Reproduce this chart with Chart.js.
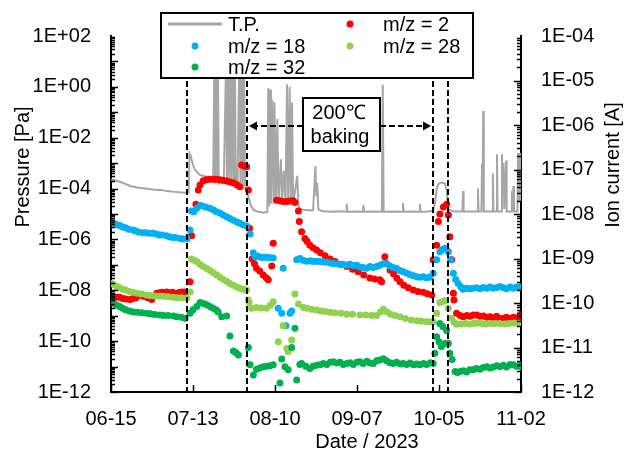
<!DOCTYPE html>
<html><head><meta charset="utf-8">
<script src="https://cdn.jsdelivr.net/npm/chart.js@4/dist/chart.umd.min.js"></script>
<style>html,body{margin:0;padding:0;background:#fff}#wrap{width:626px;height:451px}</style>
</head><body><div id="wrap"><canvas id="c" width="626" height="451"></canvas></div>
<script>
// ---- Data (x = days since 2023-06-15, y = log10 of value) ----
const xTickDays   = [0, 28, 56, 84, 112, 140];
const xTickLabels = ['06-15', '07-13', '08-10', '09-07', '10-05', '11-02'];
const leftTickExp   = [2, 0, -2, -4, -6, -8, -10, -12];
const leftTickLabels  = ['1E+02', '1E+00', '1E-02', '1E-04', '1E-06', '1E-08', '1E-10', '1E-12'];
const rightTickExp  = [-4, -5, -6, -7, -8, -9, -10, -11, -12];
const rightTickLabels = ['1E-04', '1E-05', '1E-06', '1E-07', '1E-08', '1E-09', '1E-10', '1E-11', '1E-12'];
const markerDays = [26.1, 46.5, 109.9, 115.1];   // vertical dashed lines (baking period edges)

// Total pressure [Pa], [day, log10(P)]
const tpPoints = [[0,-3.64],[1.5,-3.68],[3,-3.73],[5,-3.82],[6.5,-3.90],[9,-3.96],[11,-3.99],[13,-4.02],[15.6,-4.06],[17,-4.05],[19,-4.10],[22,-4.13],[25.3,-4.16],[26.5,-4.16],
[26.8,-2.61],[27.2,-2.70],[27.6,-2.90],[28.1,-3.10],[28.7,-3.27],[30.4,-3.47],[32.7,-3.53],[34.9,-3.60],
[35.3,1],[35.6,-3.8],[35.9,1],[36.2,-3.7],[36.5,1],[36.8,-3.8],[37.5,-3.75],[38.5,-3.78],
[39.3,1],[39.6,-3.8],[40.0,1],[40.4,-3.8],[40.8,1],[41.2,-3.85],[41.6,1],[42.0,-3.85],[42.3,1],[42.6,-3.85],[43.2,-3.9],
[43.8,1],[44.2,-3.9],[44.6,1],[45.0,-3.9],[45.4,1],[45.8,-3.95],[46.2,-4.06],[46.9,-4.30],[47.5,-4.58],[48.6,-4.84],[50,-4.90],[52,-4.95],[53.4,-4.92],
[53.7,-0.05],[54.0,-4.7],[54.3,-0.1],[54.6,-4.6],[55.0,-0.5],[55.5,-4.6],[55.8,-0.6],[56.3,-4.55],[56.8,-1.26],[57.2,-4.55],[58.0,-2.85],[58.4,-4.55],[59.0,-3.3],[59.6,-4.55],
[60.1,0.1],[60.5,-4.55],[61.0,0.0],[61.4,-4.6],[61.8,-0.62],[62.2,-4.6],[63.6,-3.5],[64.0,-4.7],[65,-4.82],[67,-4.85],[69,-4.85],
[69.8,-3.11],[70.1,-4.3],[70.4,-3.78],[70.8,-4.82],[72,-4.88],[75,-4.91],[78,-4.89],[80.3,-4.91],[80.5,-4.60],[80.7,-4.91],[83,-4.90],[86,-4.91],[86.2,-4.65],[86.4,-4.91],[89,-4.90],
[92.5,-4.91],[92.8,0.08],[93.1,-4.91],[96,-4.90],[99.5,-4.91],[99.7,-4.57],[99.9,-4.91],[102,-4.90],[105.3,-4.91],[105.5,-4.6],[105.7,-4.91],[108,-4.90],[110,-4.88],
[110.6,-4.6],[111.2,-4.03],[111.8,-3.82],[112.5,-3.77],[113.3,-3.77],[114.0,-3.80],[114.6,-4.05],[115.2,-4.82],[117,-4.90],[120.0,-4.90],[120.2,-4.10],[120.4,-4.90],
[123,-4.90],[125.1,-4.90],[125.3,-4.0],[125.5,-4.90],[126.5,-4.90],[126.7,-3.0],[126.9,-4.5],[127.1,-0.95],[127.3,-4.90],[130.2,-4.90],[130.4,-3.4],[130.6,-4.90],
[131.6,-4.90],[131.8,-2.65],[132.0,-4.90],[133.3,-4.90],[133.5,-2.65],[133.8,-4.3],[134.0,-3.0],[134.3,-4.8],[134.9,-2.9],[135.1,-4.90],[136.7,-4.90],[136.9,-4.1],
[137.2,-4.8],[137.4,-3.9],[137.6,-4.90],[138.8,-4.90],[139.0,-2.6],[139.3,-4.5],[139.6,-3.0],[139.8,-4.5],[140.0,-2.6]];

// Ion currents [A], [day, log10(I)]
const mz2Points = [[0.2,-9.84],[1,-9.86],[2,-9.87],[3,-9.87],[4,-9.90],[5,-9.91],[6.5,-9.92],[7.5,-9.90],[8.5,-9.88],[9.9,-9.82],[11,-9.85],[12.5,-9.88],[13.9,-9.92],[15.6,-9.78],
[16.5,-9.77],[17.5,-9.76],[19,-9.75],[20,-9.77],[21,-9.76],[22.4,-9.78],[23.5,-9.76],[24.3,-9.75],[25.3,-9.75],[27,-9.52],[27.5,-8.49],[29,-7.78],[29.8,-7.46],[30.4,-7.35],
[31.5,-7.25],[32.5,-7.23],[33.7,-7.22],[34.9,-7.22],[36,-7.22],[37.2,-7.23],[38.3,-7.24],[39.5,-7.26],[40.6,-7.28],[41.8,-7.30],[43,-7.34],[44,-7.39],[44.6,-6.90],[45.5,-6.92],
[46.3,-6.94],[46.9,-7.46],[47.3,-8.32],[48.2,-9.01],[49,-9.12],[49.7,-9.22],[50.8,-9.28],[52,-9.37],[53,-9.43],[53.7,-9.48],[54.9,-9.17],[55.4,-8.66],[56.6,-7.69],[57.7,-7.70],
[58.8,-7.72],[60,-7.72],[61.1,-7.71],[62.2,-7.70],[62.8,-7.74],[64,-7.93],[64.3,-8.17],[65.1,-8.40],[66.2,-8.55],[67,-8.62],[67.9,-8.70],[69,-8.76],[70.2,-8.81],[71.5,-8.87],
[73.1,-8.94],[74.8,-9.01],[76.5,-9.07],[78.5,-9.13],[80.5,-9.18],[82.5,-9.24],[84.4,-9.30],[86.3,-9.37],[88.4,-9.44],[90,-9.46],[91.8,-9.48],[92.4,-9.52],[93.5,-8.96],[93.8,-9.11],
[95.3,-9.26],[96.5,-9.35],[97.6,-9.44],[98.7,-9.52],[100,-9.60],[101.5,-9.66],[103.2,-9.71],[104.8,-9.74],[106.6,-9.76],[108,-9.79],[109.5,-9.82],[110,-9.03],[111.2,-8.70],
[111.8,-8.17],[112.3,-8.00],[113.5,-7.84],[114.6,-7.78],[115.2,-8.02],[115.7,-8.51],[116.3,-9.03],[116.9,-9.78],[117.1,-9.93],[118,-10.23],[119.2,-10.28],[120.3,-10.31],
[121.5,-10.28],[122.6,-10.30],[123.7,-10.27],[124.9,-10.27],[126,-10.30],[127.2,-10.29],[128.3,-10.32],[129.4,-10.31],[130.6,-10.33],[131.7,-10.30],[132.8,-10.35],[133.9,-10.34],
[135,-10.32],[136.2,-10.35],[137.4,-10.32],[138.5,-10.34],[139.6,-10.30],[140,-10.25]];

const mz18Points = [[0.2,-8.19],[1,-8.21],[2,-8.24],[3,-8.26],[4,-8.29],[5,-8.31],[6,-8.34],[7.6,-8.36],[8.5,-8.38],[9.5,-8.41],[11,-8.42],[12,-8.42],[13,-8.43],[14.4,-8.43],
[15.5,-8.45],[16.5,-8.47],[17.5,-8.47],[19,-8.49],[20,-8.51],[21,-8.53],[22,-8.53],[23.6,-8.55],[24.5,-8.56],[26,-8.55],[27,-8.36],[27.5,-7.93],[28.3,-7.95],[29.3,-7.87],
[30.4,-7.81],[31.3,-7.82],[32.4,-7.85],[33.8,-7.87],[35,-7.91],[36,-7.95],[37.2,-7.98],[38.3,-8.02],[39.5,-8.06],[40.6,-8.10],[41.8,-8.14],[43,-8.18],[44,-8.21],[45,-8.24],
[46.3,-8.27],[47.5,-8.45],[48.6,-8.87],[49.2,-8.96],[50.2,-8.95],[51,-8.97],[52,-8.97],[53,-8.98],[54,-8.98],[55.4,-8.99],[57.1,-10.12],[58.3,-10.23],[58.8,-9.22],[59.7,-10.51],
[61.1,-10.23],[61.7,-10.18],[63.4,-9.03],[64.5,-9.00],[65.5,-9.04],[66.8,-9.06],[68,-9.05],[69,-9.07],[70.2,-9.06],[71.4,-9.07],[72.5,-9.08],[73.6,-9.08],[74.8,-9.10],
[75.9,-9.11],[77,-9.12],[78.2,-9.13],[79.3,-9.13],[80.5,-9.15],[81.6,-9.13],[82.7,-9.16],[83.9,-9.15],[85,-9.19],[86.1,-9.20],[87.3,-9.22],[88.4,-9.18],[89.5,-9.20],
[90.7,-9.18],[91.8,-9.15],[92.9,-9.12],[94.1,-9.12],[95.2,-9.17],[96.3,-9.20],[97.5,-9.22],[98.6,-9.27],[99.8,-9.30],[101,-9.33],[102.1,-9.36],[103.2,-9.39],[104.4,-9.41],
[105.5,-9.42],[106.6,-9.41],[107.7,-9.43],[108.9,-9.42],[110,-9.33],[111.2,-9.03],[112.3,-8.85],[113.2,-8.80],[114,-8.77],[115.2,-8.85],[116,-9.03],[116.9,-9.33],[117.7,-9.47],
[118.6,-9.56],[119.5,-9.64],[120.3,-9.69],[121.4,-9.67],[122.5,-9.68],[123.7,-9.67],[124.8,-9.66],[126,-9.68],[127.1,-9.65],[128.3,-9.67],[129.4,-9.64],[130.5,-9.67],
[131.7,-9.65],[132.8,-9.63],[134,-9.66],[135.1,-9.68],[136.3,-9.64],[137.4,-9.67],[138.5,-9.64],[139.6,-9.66],[140,-9.63]];

const mz28Points = [[0.2,-9.56],[1,-9.59],[2,-9.63],[3,-9.66],[4,-9.69],[5,-9.71],[6.3,-9.74],[7.6,-9.76],[9,-9.78],[10.5,-9.80],[12.2,-9.82],[13.5,-9.83],[15,-9.84],[16.7,-9.84],
[18,-9.85],[19.5,-9.86],[21.3,-9.87],[22.5,-9.88],[24,-9.88],[25.8,-9.89],[27,-9.75],[27.5,-9.01],[28.4,-9.04],[29.3,-9.07],[30.4,-9.13],[31.5,-9.18],[32.6,-9.22],[33.8,-9.27],
[35,-9.32],[36.1,-9.37],[37.2,-9.42],[38.3,-9.47],[39.5,-9.51],[40.6,-9.56],[41.8,-9.60],[43,-9.64],[44,-9.67],[45.2,-9.69],[46.3,-9.71],[46.9,-9.93],[47.2,-9.99],[48,-10.12],
[49.7,-10.10],[51.3,-10.11],[53.1,-10.12],[54.4,-10.05],[55.4,-9.97],[57.1,-10.87],[58.8,-10.51],[60,-11.02],[60.5,-11.09],[61.7,-10.83],[62.8,-9.80],[64,-10.02],[65.7,-10.10],
[67,-10.12],[68.5,-10.14],[70.2,-10.16],[71.7,-10.18],[73.2,-10.19],[74.8,-10.21],[76.5,-10.22],[78.5,-10.23],[80.5,-10.25],[82.5,-10.25],[85,-10.27],[87,-10.27],[89,-10.28],
[90.7,-10.28],[92,-10.20],[93,-10.14],[94.3,-10.20],[95.5,-10.25],[97,-10.28],[98.7,-10.31],[100.5,-10.35],[102.5,-10.38],[104.5,-10.40],[106,-10.41],[107.8,-10.42],[109,-10.42],
[110,-10.42],[111.2,-10.23],[112.3,-9.99],[113.2,-9.97],[114,-9.95],[115.2,-10.12],[116.3,-10.34],[117.2,-10.43],[118,-10.48],[119.5,-10.47],[121,-10.46],[122.5,-10.47],
[123.7,-10.46],[125,-10.45],[126.5,-10.46],[128,-10.47],[129.5,-10.46],[131,-10.46],[132.8,-10.46],[134.5,-10.47],[136,-10.46],[137.5,-10.45],[139,-10.46],[140,-10.46]];

const mz32Points = [[0.2,-9.97],[1,-10.01],[2,-10.05],[3,-10.08],[4,-10.12],[5,-10.15],[6.3,-10.18],[7.6,-10.20],[9,-10.21],[10.5,-10.22],[12.2,-10.23],[13.5,-10.24],[15,-10.26],
[16.7,-10.27],[18,-10.28],[19.5,-10.28],[21.3,-10.29],[22.5,-10.31],[24,-10.32],[25.3,-10.34],[27,-10.23],[28,-10.15],[29.3,-10.08],[30.4,-9.99],[31.5,-10.01],[32.7,-10.04],
[33.8,-10.08],[34.9,-10.12],[36,-10.16],[36.6,-10.20],[37.8,-10.31],[39.5,-10.29],[40.6,-10.74],[41.8,-11.08],[42.7,-11.12],[43.5,-11.17],[46.9,-11.00],[47.5,-11.39],[48.6,-11.62],
[49.7,-11.49],[50.8,-11.46],[52,-11.43],[53.2,-11.42],[54.3,-11.41],[55.4,-11.39],[57.7,-11.80],[58.3,-11.26],[59.4,-11.43],[60.5,-11.50],[61.7,-11.00],[62.8,-10.57],[63.4,-11.73],
[64.5,-11.38],[65.1,-11.36],[66.5,-11.42],[67.9,-11.47],[69,-11.42],[70.2,-11.40],[71.4,-11.39],[72.5,-11.36],[73.7,-11.38],[74.8,-11.33],[75.9,-11.32],[77,-11.35],[78.2,-11.33],
[79.3,-11.38],[80.5,-11.36],[81.6,-11.34],[82.7,-11.38],[83.9,-11.33],[85,-11.32],[86.1,-11.36],[87.3,-11.31],[88.4,-11.35],[89.6,-11.36],[90.7,-11.30],[91.8,-11.28],[93,-11.25],
[94.1,-11.30],[95.2,-11.34],[96.4,-11.36],[97.5,-11.33],[98.7,-11.37],[99.8,-11.36],[101,-11.38],[102.1,-11.35],[103.3,-11.39],[104.4,-11.37],[105.5,-11.39],[106.7,-11.36],
[107.8,-11.38],[109,-11.34],[110,-11.36],[110.6,-11.13],[111.2,-10.76],[112,-10.87],[112.3,-10.46],[112.8,-10.98],[113.3,-10.53],[114,-10.91],[114.6,-10.62],[115.2,-10.91],
[115.7,-11.13],[116.5,-11.27],[117.5,-11.54],[118.3,-11.56],[119.2,-11.54],[120.3,-11.52],[121.4,-11.55],[122.5,-11.50],[123.7,-11.50],[124.8,-11.47],[126,-11.49],[127.1,-11.45],
[128.3,-11.43],[129.4,-11.46],[130.5,-11.44],[131.7,-11.41],[132.8,-11.43],[134,-11.40],[135.1,-11.44],[136.3,-11.38],[137.4,-11.39],[138.5,-11.42],[139.6,-11.40],[140,-11.43]];

const seriesNames  = ['T.P.', 'm/z = 2', 'm/z = 18', 'm/z = 28', 'm/z = 32'];
const seriesColors = ['#A6A6A6', '#FF0000', '#00B0F0', '#92D050', '#00B050'];

// ---- Build ----
const toXY = pts => pts.map(p => ({x: p[0], y: Math.pow(10, p[1])}));
const FONT = "'Liberation Sans', Arial, sans-serif";

const datasets = [
  {label: seriesNames[0], data: toXY(tpPoints), yAxisID: 'yL', showLine: true, borderColor: seriesColors[0],
   borderWidth: 2, pointRadius: 0, tension: 0, order: 10},
  {label: seriesNames[1], data: toXY(mz2Points), yAxisID: 'yR', order: 4},
  {label: seriesNames[2], data: toXY(mz18Points), yAxisID: 'yR', order: 3},
  {label: seriesNames[3], data: toXY(mz28Points), yAxisID: 'yR', order: 2},
  {label: seriesNames[4], data: toXY(mz32Points), yAxisID: 'yR', order: 1}
];
for (let i = 1; i < datasets.length; i++) {
  Object.assign(datasets[i], {showLine: false, pointRadius: 3.5, pointHoverRadius: 3.5, borderWidth: 0,
    backgroundColor: seriesColors[i], borderColor: seriesColors[i]});
}

function seg(ctx, x1, y1, x2, y2) {
  ctx.beginPath(); ctx.moveTo(x1, y1); ctx.lineTo(x2, y2); ctx.stroke();
}

const overlay = {
  id: 'overlay',
  afterDraw(chart) {
    const ctx = chart.ctx, a = chart.chartArea;
    const xs = chart.scales.x, yl = chart.scales.yL, yr = chart.scales.yR;
    ctx.save();
    // inner tick marks
    ctx.strokeStyle = '#000'; ctx.lineWidth = 1.5; ctx.setLineDash([]);
    for (let e = -12; e < 2; e++) for (let m = 1; m < 10; m++) {
      const y = Math.round(yl.getPixelForValue(m * Math.pow(10, e))) + 0.5;
      seg(ctx, a.left, y, a.left + (m === 1 ? 7 : 4), y);
    }
    for (let e = -12; e < -4; e++) for (let m = 1; m < 10; m++) {
      const y = Math.round(yr.getPixelForValue(m * Math.pow(10, e))) + 0.5;
      seg(ctx, a.right, y, a.right - (m === 1 ? 7 : 4), y);
    }
    xTickDays.forEach(d => { const x = Math.round(xs.getPixelForValue(d)) + 0.5; seg(ctx, x, a.bottom, x, a.bottom - 7); });

    // vertical dashed markers
    ctx.lineWidth = 2; ctx.setLineDash([6, 3]);
    const mx = markerDays.map(d => Math.round(xs.getPixelForValue(d)));
    mx.forEach(x => seg(ctx, x, a.top, x, a.bottom));

    // annotation box "200℃ baking" with arrows
    const bx1 = 303, bx2 = 380, by1 = 98, by2 = 151, ay = 126;
    seg(ctx, bx1, ay, mx[1] + 9, ay);
    seg(ctx, bx2, ay, mx[2] - 9, ay);
    ctx.setLineDash([]);
    ctx.fillStyle = '#000';
    ctx.beginPath(); ctx.moveTo(mx[1] + 2, ay); ctx.lineTo(mx[1] + 10, ay - 4.5); ctx.lineTo(mx[1] + 10, ay + 4.5); ctx.closePath(); ctx.fill();
    ctx.beginPath(); ctx.moveTo(mx[2] - 2, ay); ctx.lineTo(mx[2] - 10, ay - 4.5); ctx.lineTo(mx[2] - 10, ay + 4.5); ctx.closePath(); ctx.fill();
    ctx.fillStyle = '#fff'; ctx.fillRect(bx1, by1, bx2 - bx1, by2 - by1);
    ctx.lineWidth = 2; ctx.strokeStyle = '#000'; ctx.strokeRect(bx1, by1, bx2 - bx1, by2 - by1);
    ctx.fillStyle = '#000'; ctx.font = '20px ' + FONT; ctx.textAlign = 'center'; ctx.textBaseline = 'middle';
    ctx.fillText('200℃', 339, 113);
    ctx.fillText('baking', 340, 137);

    // legend
    const lx1 = 161, lx2 = 473, ly1 = 13, ly2 = 78;
    ctx.fillStyle = '#fff'; ctx.fillRect(lx1, ly1, lx2 - lx1, ly2 - ly1);
    ctx.strokeRect(lx1, ly1, lx2 - lx1, ly2 - ly1);
    const items = [
      {i: 0, x: 195, tx: 228, y: 24, line: true},
      {i: 1, x: 350, tx: 383, y: 24},
      {i: 2, x: 195, tx: 228, y: 46},
      {i: 3, x: 350, tx: 383, y: 46},
      {i: 4, x: 195, tx: 228, y: 67}
    ];
    ctx.textAlign = 'left';
    items.forEach(it => {
      if (it.line) {
        ctx.strokeStyle = seriesColors[it.i]; ctx.lineWidth = 3;
        seg(ctx, 168, it.y, 222, it.y);
      } else {
        ctx.fillStyle = seriesColors[it.i];
        ctx.beginPath(); ctx.arc(it.x, it.y, 3.5, 0, Math.PI * 2); ctx.fill();
      }
      ctx.fillStyle = '#000';
      ctx.fillText(seriesNames[it.i], it.tx, it.y + 1);
    });

    // axis titles
    ctx.textAlign = 'center'; ctx.textBaseline = 'middle'; ctx.fillStyle = '#000';
    ctx.fillText('Date / 2023', 367, 442);
    ctx.save(); ctx.translate(23, 167); ctx.rotate(-Math.PI / 2); ctx.fillText('Pressure [Pa]', 0, 0); ctx.restore();
    ctx.save(); ctx.translate(613, 165); ctx.rotate(-Math.PI / 2); ctx.fillText('Ion current [A]', 0, 0); ctx.restore();
    ctx.restore();
  }
};

const tickFont = {family: FONT, size: 20};
new Chart(document.getElementById('c'), {
  type: 'scatter',
  data: {datasets},
  options: {
    responsive: false, animation: false, devicePixelRatio: 1,
    layout: {padding: {top: 36, left: 0, right: 0, bottom: 0}},
    plugins: {legend: {display: false}, tooltip: {enabled: false}},
    scales: {
      x: {
        type: 'linear', position: 'bottom', min: 0, max: 140,
        grid: {display: false, drawTicks: false},
        border: {display: true, color: '#000', width: 2},
        afterBuildTicks: s => { s.ticks = xTickDays.map(v => ({value: v})); },
        afterFit: s => { s.height = 59; },
        ticks: {autoSkip: false, maxRotation: 0, padding: 15, color: '#000', font: tickFont,
          callback: (v, i) => xTickLabels[i]}
      },
      yL: {
        type: 'logarithmic', position: 'left', min: 1e-12, max: 1e2,
        grid: {display: false, drawTicks: false},
        border: {display: true, color: '#000', width: 2},
        afterBuildTicks: s => { s.ticks = leftTickExp.map(e => ({value: Math.pow(10, e)})); },
        afterFit: s => { s.width = 111; },
        ticks: {autoSkip: false, padding: 20, color: '#000', font: tickFont,
          callback: (v, i) => leftTickLabels[i]}
      },
      yR: {
        type: 'logarithmic', position: 'right', min: 1e-12, max: 1e-4,
        grid: {display: false, drawTicks: false},
        border: {display: true, color: '#000', width: 2},
        afterBuildTicks: s => { s.ticks = rightTickExp.map(e => ({value: Math.pow(10, e)})); },
        afterFit: s => { s.width = 105; },
        ticks: {autoSkip: false, padding: 20, color: '#000', font: tickFont,
          callback: (v, i) => rightTickLabels[i]}
      }
    }
  },
  plugins: [overlay]
});
</script></body></html>
